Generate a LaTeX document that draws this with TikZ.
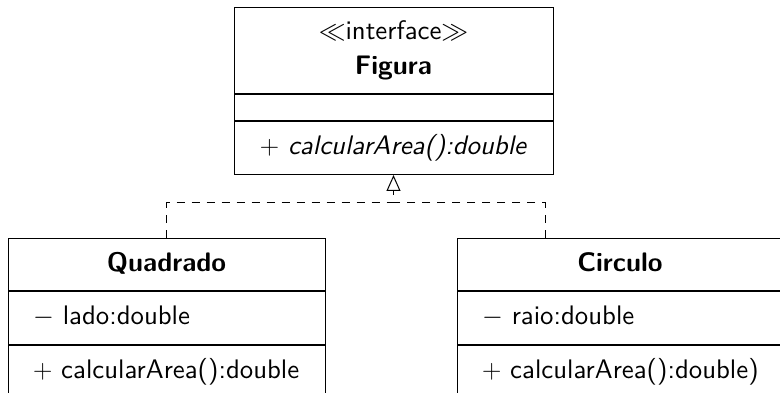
\RequirePackage{fix-cm}
\documentclass[tikz,border=0pt]{standalone}
\usepackage{fontspec}
\setsansfont{lmsans10-regular}[Extension=.otf, BoldFont=lmsans10-bold,
  ItalicFont=lmsans10-oblique, BoldItalicFont=lmsans10-boldoblique]
\usetikzlibrary{arrows.meta}
\hfuzz=40pt

\begin{document}
\begin{tikzpicture}[x=1pt, y=-1pt,
  every node/.style={font=\sffamily\fontsize{26.8}{35}\selectfont},
  umlpart/.style={draw, line width=1pt, inner sep=0pt},
  oneline/.style={umlpart, text height=19.8pt, text depth=6.6pt},
  leftline/.style={oneline, align=left, inner xsep=25pt},
  realize/.style={draw, line width=1pt, dash pattern=on 8pt off 7pt},
  realizearrow/.style={realize, -{Triangle[open, length=16pt, width=14pt, line width=1pt]}}]
\useasboundingbox (0,0) rectangle (780,393);

% interface Figura
\node[umlpart, align=center, minimum width=319pt, minimum height=86pt, anchor=north]
  (figname) at (393.5,7) {$\ll$interface$\gg$\\\textbf{Figura}};
\node[umlpart, minimum width=319pt, minimum height=26pt, anchor=north]
  (figattr) at (figname.south) {};
\node[oneline, minimum width=319pt, minimum height=53pt, anchor=north]
  (figops) at (figattr.south) {$+$ \textit{calcularArea():double}};

% class Quadrado
\node[oneline, minimum width=317pt, minimum height=52pt, anchor=north]
  (qname) at (166.5,238) {\textbf{Quadrado}};
\node[leftline, text width=267pt, minimum height=53pt, anchor=north]
  (qattr) at (qname.south) {\mbox{$-$ lado:double}};
\node[leftline, text width=267pt, minimum height=53pt, anchor=north]
  (qops) at (qattr.south) {\mbox{$+$ calcularArea():double}};

% class Circulo
\node[oneline, minimum width=326pt, minimum height=52pt, anchor=north]
  (cname) at (620,238) {\textbf{Circulo}};
\node[leftline, text width=276pt, minimum height=53pt, anchor=north]
  (cattr) at (cname.south) {\mbox{$-$ raio:double}};
\node[leftline, text width=276pt, minimum height=53pt, anchor=north]
  (cops) at (cattr.south) {\mbox{$+$ calcularArea():double)}};

% realization connectors
\coordinate (join) at (393.5,203);
\coordinate (cjoin) at (545,238);
\draw[realizearrow] (qname.north) |- (join) -- (figops.south);
\draw[realize] (cjoin) |- (join);
\end{tikzpicture}
\end{document}
